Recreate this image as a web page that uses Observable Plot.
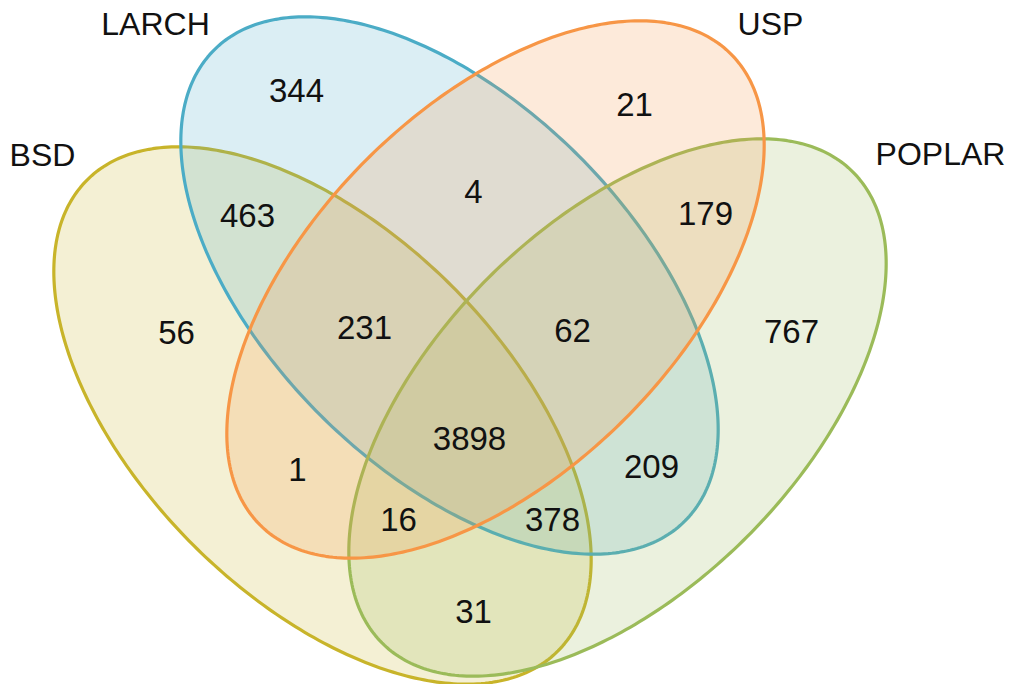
<!DOCTYPE html>
<html><head><meta charset="utf-8">
<script src="https://cdn.jsdelivr.net/npm/d3@7"></script>
<script src="https://cdn.jsdelivr.net/npm/@observablehq/plot@0.6"></script>
<style>body{margin:0;background:#fff;}</style>
</head><body><div id="chart"></div>
<script>
// ---- data ----
const setNames = ["BSD", "LARCH", "USP", "POPLAR"];
const setColors = ["#c8b42a", "#4bacc6", "#f79646", "#9bbb59"];
const regionKeys = ["BSD", "LARCH", "USP", "POPLAR",
  "BSD+LARCH", "LARCH+USP", "USP+POPLAR", "BSD+USP", "LARCH+POPLAR", "BSD+POPLAR",
  "BSD+LARCH+USP", "LARCH+USP+POPLAR", "BSD+USP+POPLAR", "BSD+LARCH+POPLAR",
  "BSD+LARCH+USP+POPLAR"];
const regionCounts = [56, 344, 21, 767, 463, 4, 179, 1, 209, 31, 231, 62, 16, 378, 3898];

// ---- layout (diagram units) ----
const ellipseLayout = {
  BSD:    {cx: 322, cy: 415, a: 333, b: 183, angle: 45},
  LARCH:  {cx: 449, cy: 285, a: 333, b: 183, angle: 45},
  USP:    {cx: 495, cy: 289, a: 333, b: 183, angle: -45},
  POPLAR: {cx: 617, cy: 407, a: 333, b: 183, angle: -45}
};
const drawOrder = ["BSD", "LARCH", "POPLAR", "USP"];
const setLabelAnchor = {BSD: [42, 155], LARCH: [155, 24], USP: [770, 24], POPLAR: [940, 154]};
const regionAnchor = {
  "BSD": [176, 333], "LARCH": [296, 91], "USP": [634, 105], "POPLAR": [791, 332],
  "BSD+LARCH": [247, 216], "LARCH+USP": [473, 192], "USP+POPLAR": [705, 214],
  "BSD+USP": [297, 470], "LARCH+POPLAR": [651, 467], "BSD+POPLAR": [473, 612],
  "BSD+LARCH+USP": [364, 328], "LARCH+USP+POPLAR": [572, 331],
  "BSD+USP+POPLAR": [398, 520], "BSD+LARCH+POPLAR": [552, 520],
  "BSD+LARCH+USP+POPLAR": [469, 439]
};

function ellipsePoints(name) {
  const e = ellipseLayout[name];
  const th = e.angle * Math.PI / 180;
  const pts = [];
  for (let i = 0; i < 360; i++) {
    const t = i * Math.PI / 180;
    pts.push({
      set: name,
      x: e.cx + e.a * Math.cos(t) * Math.cos(th) - e.b * Math.sin(t) * Math.sin(th),
      y: e.cy + e.a * Math.cos(t) * Math.sin(th) + e.b * Math.sin(t) * Math.cos(th)
    });
  }
  return pts;
}

const colorOf = Object.fromEntries(setNames.map((s, i) => [s, setColors[i]]));
const setLabels = setNames.map(s => ({name: s, x: setLabelAnchor[s][0], y: setLabelAnchor[s][1]}));
const regionLabels = regionKeys.map((k, i) => ({key: k, count: regionCounts[i], x: regionAnchor[k][0], y: regionAnchor[k][1]}));

const marks = [];
for (const s of drawOrder) {
  marks.push(Plot.line(ellipsePoints(s), {
    x: "x", y: "y", curve: "linear-closed",
    fill: colorOf[s], fillOpacity: 0.2,
    stroke: colorOf[s], strokeWidth: 3.2
  }));
}
const font = "'Liberation Sans', Arial, Helvetica, sans-serif";
marks.push(Plot.text(regionLabels, {x: "x", y: "y", text: d => String(d.count), fontSize: 33, fill: "#111", fontFamily: font}));
marks.push(Plot.text(setLabels, {x: "x", y: "y", text: "name", fontSize: 32, fill: "#111", fontFamily: font}));

const chart = Plot.plot({
  width: 1012, height: 684,
  margin: 0,
  x: {domain: [0, 1012], axis: null},
  y: {domain: [0, 684], reverse: true, axis: null},
  style: {background: "#fff", overflow: "hidden"},
  marks
});
document.getElementById("chart").appendChild(chart);
</script>
</body></html>
